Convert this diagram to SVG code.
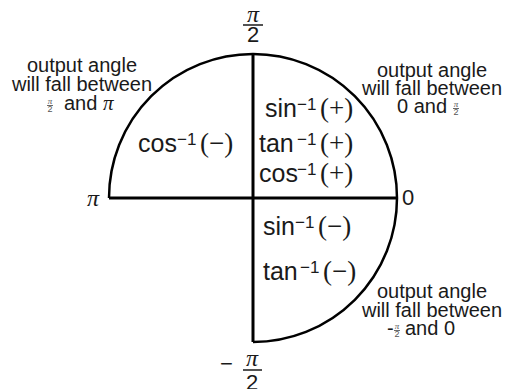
<svg xmlns="http://www.w3.org/2000/svg" width="506" height="389" viewBox="0 0 506 389">
<style>
.bg{fill:#fff}
.arc{fill:none;stroke:#000;stroke-width:2.5}
.axis{stroke:#000;stroke-width:3;fill:none}
.bar{stroke:#1a1a1a;stroke-width:1.5}
.sbar{stroke:#444;stroke-width:0.8}
text{font-family:"Liberation Sans",Arial,sans-serif;fill:#1a1a1a}
.note{font-size:20px;text-anchor:middle}
.m{font-size:25px}
.sup{font-size:17px}
.p{font-family:"Liberation Serif","Times New Roman",serif;font-size:27px}
.pi{font-family:"Liberation Serif","Times New Roman",serif;font-style:italic;font-size:24px}
.spi{font-family:"Liberation Serif",serif;font-style:italic;font-size:9px;fill:#555}
.s2{font-size:9px;fill:#555}
.big{font-size:22px}
</style>
<rect class="bg" width="506" height="389"/>
<g id="circle">
<path class="arc" d="M109,198 A144,144 0 0 1 397,198"/>
<path class="arc" d="M253,342 A144,144 0 0 0 397,198"/>
</g>
<g id="connectors">
<line class="axis" x1="109" y1="198" x2="397" y2="198"/>
<line class="axis" x1="253" y1="54" x2="253" y2="342"/>
</g>
<g id="label-top">
<text class="pi" x="253" y="22" text-anchor="middle">π</text>
<line class="bar" x1="243" y1="25" x2="263" y2="25"/>
<text class="big" x="253" y="42" text-anchor="middle">2</text>
</g>
<g id="label-bottom">
<text class="big" x="220" y="371">−</text>
<text class="pi" x="252" y="366" text-anchor="middle">π</text>
<line class="bar" x1="243" y1="370" x2="262" y2="370"/>
<text class="big" x="252" y="390" text-anchor="middle">2</text>
</g>
<g id="label-pi">
<text class="pi" x="87" y="206">π</text>
</g>
<g id="label-zero">
<text class="big" x="402" y="205">0</text>
</g>
<g id="note-left">
<text class="note" x="82" y="72">output angle</text>
<text class="note" x="82" y="91">will fall between</text>
<text class="spi" x="50" y="104" text-anchor="middle">π</text>
<line class="sbar" x1="47" y1="105.5" x2="53" y2="105.5"/>
<text class="s2" x="50" y="112" text-anchor="middle">2</text>
<text class="note" x="64" y="110" style="text-anchor:start">and <tspan class="pi" style="font-size:21px">π</tspan></text>
</g>
<g id="note-right">
<text class="note" x="432" y="77">output angle</text>
<text class="note" x="432" y="95">will fall between</text>
<text class="note" x="397" y="113" style="text-anchor:start">0 and</text>
<text class="spi" x="456" y="107" text-anchor="middle">π</text>
<line class="sbar" x1="453" y1="108.5" x2="459" y2="108.5"/>
<text class="s2" x="456" y="115" text-anchor="middle">2</text>
</g>
<g id="note-bottom">
<text class="note" x="432" y="298">output angle</text>
<text class="note" x="432" y="317">will fall between</text>
<text class="note" x="387" y="335" style="text-anchor:start">-</text>
<text class="spi" x="397" y="329" text-anchor="middle">π</text>
<line class="sbar" x1="394" y1="330.5" x2="400" y2="330.5"/>
<text class="s2" x="397" y="337" text-anchor="middle">2</text>
<text class="note" x="405" y="335" style="text-anchor:start">and 0</text>
</g>
<g id="q1">
<text class="m" x="265" y="117">sin<tspan class="sup" x="297" y="110">−1</tspan><tspan class="p" x="320" y="117">(+)</tspan></text>
<text class="m" x="259" y="152">tan<tspan class="sup" x="297" y="145">−1</tspan><tspan class="p" x="320" y="152">(+)</tspan></text>
<text class="m" x="259" y="182">cos<tspan class="sup" x="297" y="175">−1</tspan><tspan class="p" x="320" y="182">(+)</tspan></text>
</g>
<g id="q2">
<text class="m" x="138" y="152">cos<tspan class="sup" x="177" y="145">−1</tspan><tspan class="p" x="200" y="152">(−)</tspan></text>
</g>
<g id="q4">
<text class="m" x="263" y="235">sin<tspan class="sup" x="295" y="228">−1</tspan><tspan class="p" x="318" y="235">(−)</tspan></text>
<text class="m" x="263" y="280">tan<tspan class="sup" x="300" y="273">−1</tspan><tspan class="p" x="323" y="280">(−)</tspan></text>
</g>
</svg>
